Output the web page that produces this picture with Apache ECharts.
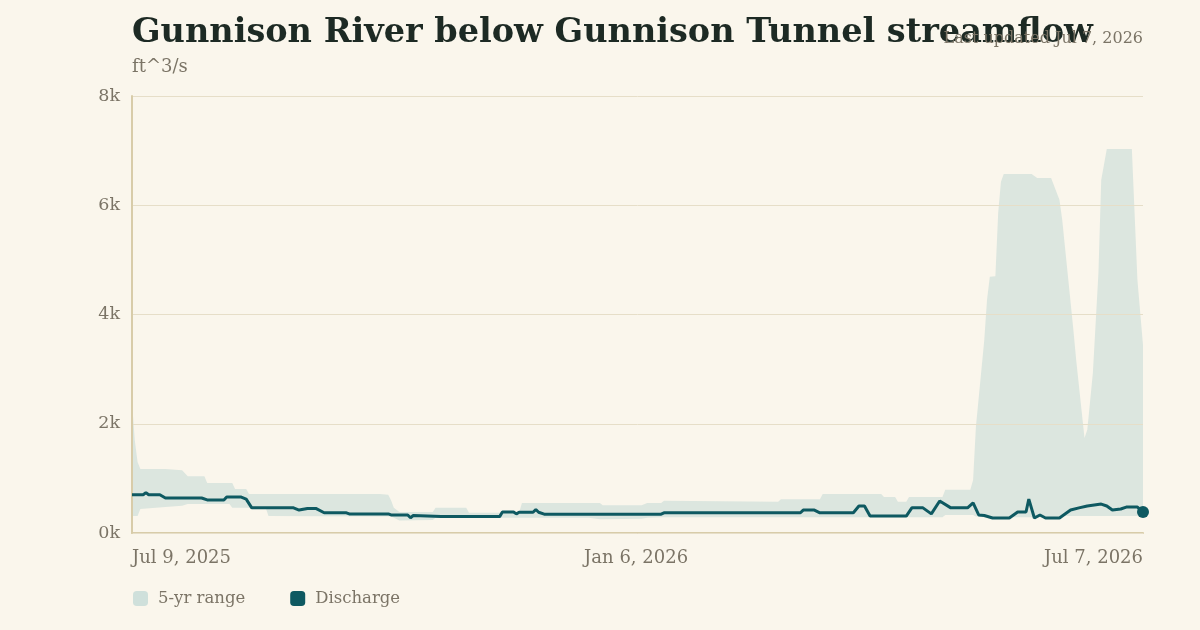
<!DOCTYPE html>
<html>
<head>
<meta charset="utf-8">
<script src="https://cdn.jsdelivr.net/npm/echarts@6/dist/echarts.min.js"></script>
<style>
  html, body { margin: 0; padding: 0; background: #faf6ec; }
  #chart { width: 1200px; height: 630px; }
</style>
</head>
<body>
<div id="chart"></div>
<script>
// 5-yr range (min / max)
const rangeDates = [
  '2025-07-09', '2025-07-10', '2025-07-11', '2025-07-12', '2025-07-21', '2025-07-27', '2025-07-29',
  '2025-08-04', '2025-08-05', '2025-08-13', '2025-08-14', '2025-08-15', '2025-08-19', '2025-08-20',
  '2025-08-26', '2025-08-27', '2025-10-06', '2025-10-09', '2025-10-10', '2025-10-11', '2025-10-13',
  '2025-10-25', '2025-10-26', '2025-11-06', '2025-11-07', '2025-11-25', '2025-11-26', '2025-12-20',
  '2025-12-24', '2025-12-25', '2026-01-08', '2026-01-10', '2026-01-15', '2026-01-16', '2026-02-26',
  '2026-02-27', '2026-03-13', '2026-03-14', '2026-04-04', '2026-04-05', '2026-04-09', '2026-04-10',
  '2026-04-13', '2026-04-14', '2026-04-26', '2026-04-27', '2026-05-06', '2026-05-07', '2026-05-08',
  '2026-05-11', '2026-05-12', '2026-05-13', '2026-05-15', '2026-05-16', '2026-05-17', '2026-05-18',
  '2026-05-28', '2026-05-30', '2026-06-04', '2026-06-07', '2026-06-08', '2026-06-12', '2026-06-13',
  '2026-06-16', '2026-06-17', '2026-06-19', '2026-06-21', '2026-06-22', '2026-06-24', '2026-07-03',
  '2026-07-05', '2026-07-07'
];
const rangeMax = [
  2400, 1700, 1300, 1170, 1170, 1150, 1040,
  1040, 915, 915, 915, 805, 805, 715,
  715, 715, 715, 700, 600, 460, 385,
  385, 460, 460, 370, 370, 550, 550,
  550, 510, 510, 550, 550, 590, 570,
  620, 620, 715, 715, 660, 660, 570,
  570, 660, 660, 790, 790, 970, 1940,
  3530, 4270, 4690, 4700, 5860, 6430, 6570,
  6570, 6500, 6500, 6100, 5730, 3720, 3170,
  1740, 1890, 2930, 4760, 6460, 7030, 7030,
  4630, 3440
];
const rangeMin = [
  310, 310, 310, 440, 475, 500, 530,
  530, 530, 530, 460, 460, 460, 460,
  460, 310, 300, 300, 300, 280, 230,
  240, 280, 280, 280, 280, 280, 280,
  250, 250, 260, 280, 290, 290, 290,
  290, 290, 290, 290, 290, 290, 290,
  290, 290, 290, 330, 330, 330, 300,
  290, 290, 290, 290, 290, 290, 290,
  290, 290, 290, 300, 310, 310, 310,
  310, 310, 310, 310, 310, 310, 310,
  310, 310
];

// Discharge, ft^3/s
const flowDates = [
  '2025-07-09', '2025-07-13', '2025-07-14', '2025-07-15', '2025-07-19', '2025-07-21', '2025-08-03',
  '2025-08-05', '2025-08-11', '2025-08-12', '2025-08-17', '2025-08-19', '2025-08-21', '2025-09-05',
  '2025-09-07', '2025-09-10', '2025-09-13', '2025-09-16', '2025-09-24', '2025-09-25', '2025-10-09',
  '2025-10-10', '2025-10-16', '2025-10-17', '2025-10-18', '2025-10-28', '2025-11-18', '2025-11-19',
  '2025-11-23', '2025-11-24', '2025-11-25', '2025-11-30', '2025-12-01', '2025-12-02', '2025-12-04',
  '2026-01-15', '2026-01-16', '2026-03-06', '2026-03-07', '2026-03-11', '2026-03-13', '2026-03-25',
  '2026-03-27', '2026-03-29', '2026-03-31', '2026-04-13', '2026-04-15', '2026-04-19', '2026-04-22',
  '2026-04-25', '2026-04-29', '2026-05-05', '2026-05-07', '2026-05-09', '2026-05-11', '2026-05-14',
  '2026-05-20', '2026-05-23', '2026-05-26', '2026-05-27', '2026-05-29', '2026-05-31', '2026-06-02',
  '2026-06-07', '2026-06-11', '2026-06-14', '2026-06-17', '2026-06-22', '2026-06-24', '2026-06-26',
  '2026-06-29', '2026-07-01', '2026-07-05', '2026-07-07'
];
const flowValues = [
  700, 700, 740, 700, 700, 640, 640,
  605, 605, 660, 660, 620, 460, 460,
  420, 450, 450, 370, 370, 350, 350,
  330, 330, 280, 320, 300, 300, 385,
  385, 350, 380, 380, 430, 380, 345,
  345, 370, 370, 420, 420, 370, 370,
  495, 495, 310, 310, 460, 460, 350,
  585, 460, 460, 550, 330, 320, 275,
  275, 385, 385, 620, 275, 330, 275,
  275, 420, 460, 495, 530, 495, 420,
  440, 475, 475, 385
];

const xTickLabels = ['2025-07-09', '2026-01-06', '2026-07-07'];
const yTicks = [0, 2000, 4000, 6000, 8000];

const FONT = "Georgia, 'DejaVu Serif', serif";
const GREY = '#7b7466';
const TEAL = '#0e5961';
const BAND = '#dce6df';
const MONTHS = ['Jan', 'Feb', 'Mar', 'Apr', 'May', 'Jun', 'Jul', 'Aug', 'Sep', 'Oct', 'Nov', 'Dec'];

// dates as UTC timestamps on a plain value axis
const ts = s => Date.parse(s + 'T00:00:00Z');
function fmtDate(v) {
  const d = new Date(v);
  return MONTHS[d.getUTCMonth()] + ' ' + d.getUTCDate() + ', ' + d.getUTCFullYear();
}

const chart = echarts.init(document.getElementById('chart'));

const option = {
  animation: false,
  backgroundColor: '#faf6ec',
  textStyle: { fontFamily: FONT },
  title: [
    {
      text: 'Gunnison River below Gunnison Tunnel streamflow',
      left: 132, top: 16, padding: 0,
      textStyle: { fontFamily: FONT, fontSize: 33.5, fontWeight: 'bold', color: '#1d2a24' }
    },
    {
      text: 'Last updated Jul 7, 2026',
      right: 57, top: 31, padding: 0,
      textStyle: { fontFamily: FONT, fontSize: 16, fontWeight: 'normal', color: GREY }
    },
    {
      text: 'ft^3/s',
      left: 132, top: 58, padding: 0,
      textStyle: { fontFamily: FONT, fontSize: 18, fontWeight: 'normal', color: GREY }
    }
  ],
  legend: {
    left: 133, top: 590, padding: 0,
    itemWidth: 15, itemHeight: 15, itemGap: 45,
    icon: 'roundRect',
    data: ['5-yr range', 'Discharge'],
    textStyle: { fontFamily: FONT, fontSize: 16.5, color: GREY, padding: [0, 0, 0, 5] }
  },
  grid: { left: 132, right: 57, top: 96, bottom: 97 },
  xAxis: {
    type: 'value',
    min: ts(rangeDates[0]),
    max: ts(rangeDates[rangeDates.length - 1]),
    axisLine: { lineStyle: { color: '#d8cca9', width: 2 } },
    axisTick: { show: false },
    splitLine: { show: false },
    axisLabel: {
      customValues: xTickLabels.map(ts),
      formatter: v => fmtDate(v),
      alignMinLabel: 'left',
      alignMaxLabel: 'right',
      margin: 16,
      fontFamily: FONT, fontSize: 18, color: GREY
    }
  },
  yAxis: {
    type: 'value',
    z: 3,
    min: yTicks[0], max: yTicks[yTicks.length - 1], interval: 2000,
    axisLine: { show: true, lineStyle: { color: '#d8cca9', width: 2 } },
    axisTick: { show: false },
    splitLine: { lineStyle: { color: '#e6dec8', width: 1 } },
    axisLabel: {
      formatter: v => (v / 1000) + 'k',
      margin: 12,
      fontFamily: FONT, fontSize: 17.5, color: GREY
    }
  },
  series: [
    {
      name: '5-yr range',
      type: 'custom',
      silent: true,
      itemStyle: { color: '#cfe0db' },
      encode: { x: 0, y: [1, 2] },
      data: rangeDates.map((d, i) => [ts(d), rangeMin[i], rangeMax[i]]),
      renderItem: (params, api) => {
        if (params.dataIndex !== 0) return;
        const top = rangeDates.map((d, i) => api.coord([ts(d), rangeMax[i]]));
        const bottom = rangeDates.map((d, i) => api.coord([ts(d), rangeMin[i]])).reverse();
        return {
          type: 'polygon',
          shape: { points: top.concat(bottom) },
          style: { fill: BAND }
        };
      }
    },
    {
      name: 'Discharge',
      type: 'line',
      symbol: 'none',
      itemStyle: { color: TEAL },
      lineStyle: { color: TEAL, width: 3 },
      data: flowDates.map((d, i) => [ts(d), flowValues[i]])
    },
    {
      name: 'latest',
      type: 'scatter',
      symbolSize: 12,
      itemStyle: { color: TEAL, opacity: 1 },
      silent: true,
      data: [[ts(flowDates[flowDates.length - 1]), flowValues[flowValues.length - 1]]]
    }
  ]
};

chart.setOption(option);
</script>
</body>
</html>
